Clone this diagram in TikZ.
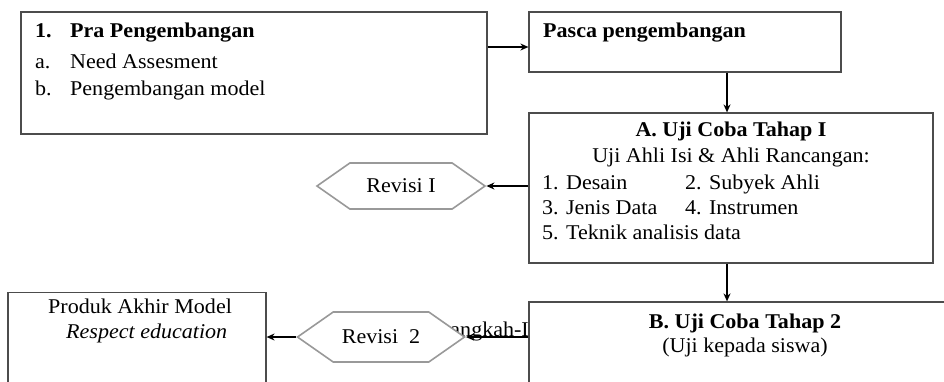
\documentclass[tikz,border=0pt]{standalone}
\usepackage{fontspec}
\setmainfont{Liberation Serif}[FakeStretch=1.05]
\usetikzlibrary{arrows.meta,shapes.symbols}

\tikzset{
  box/.style={draw=black!70, line width=1.2pt, fill=white, inner sep=0pt},
  revbox/.style={signal, signal to=west and east, signal pointer angle=70,
    draw=black!40, line width=1.6pt, fill=white, inner sep=0pt},
  txt/.style={inner sep=0pt, align=left},
  flow/.style={line width=1.8pt, -{Stealth[length=8pt,width=7pt]}},
}

\begin{document}
\begin{tikzpicture}[x=1pt,y=-1pt,font=\fontsize{21}{25}\selectfont]
  \useasboundingbox (0,0) rectangle (944,381);
  \clip (0,0) rectangle (944,381);

  % word left behind the second revision
  \node[txt, anchor=base east] (langkah) at (529,336) {Langkah-I};

  % boxes
  \node[box, minimum width=466pt, minimum height=122pt] (pra) at (254,73) {};
  \node[box, minimum width=312pt, minimum height=60pt] (pasca) at (685,42) {};
  \node[box, minimum width=404pt, minimum height=150pt] (ujiA) at (731,188) {};
  \node[box, minimum width=436pt, minimum height=118pt] (ujiB) at (747,361) {};
  \node[box, minimum width=258pt, minimum height=127pt] (produk) at (137,356) {};
  \node[revbox, minimum width=168pt, minimum height=46pt] (rev1) at (401,186) {Revisi I};
  \node[revbox, minimum width=167pt, minimum height=50pt] (rev2) at (381,337) {Revisi~~2};

  % texts in the boxes
  \node[txt, anchor=base west] (praText) at (35,37)
    {\begin{tabular}[t]{@{}p{35pt}@{}l@{}}
      \textbf{1.} & \textbf{Pra Pengembangan}\\[6pt]
      a. & Need Assesment\\[2pt]
      b. & Pengembangan model
    \end{tabular}};
  \node[txt, anchor=base west] (pascaText) at (543,37) {\textbf{Pasca pengembangan}};
  \node[txt, anchor=base] (ujiATitle) at (731,136) {\textbf{A. Uji Coba Tahap I}};
  \node[txt, anchor=base] (ujiASub) at (731,162) {Uji Ahli Isi \& Ahli Rancangan:};
  \node[txt, anchor=base west] (ujiAList) at (542,189)
    {\begin{tabular}[t]{@{}p{143pt}@{}l@{}}
      1. Desain & 2. Subyek Ahli\\
      3. Jenis Data & 4. Instrumen\\
      \multicolumn{2}{@{}l@{}}{5. Teknik analisis data}
    \end{tabular}};
  \node[txt, anchor=base] (ujiBTitle) at (745,328) {\textbf{B. Uji Coba Tahap 2}};
  \node[txt, anchor=base] (ujiBSub) at (745,352) {(Uji kepada siswa)};
  \node[txt, anchor=north west] (produkText) at (48,299)
    {Produk Akhir Model\\\hspace*{18pt}\textit{Respect education}};

  % arrows
  \draw[flow] (pra.east |- 0,47) -- (pasca.west |- 0,47);
  \draw[flow] (pasca.south -| 727,0) -- (ujiA.north -| 727,0);
  \draw[flow] (ujiA.west |- rev1.east) -- (rev1.east);
  \draw[flow] (ujiA.south -| 727,0) -- (ujiB.north -| 727,0);
  \draw[flow] (ujiB.west |- rev2.east) -- (rev2.east);
  \draw[flow] (rev2.west) -- (produk.east |- rev2.west);
\end{tikzpicture}
\end{document}
